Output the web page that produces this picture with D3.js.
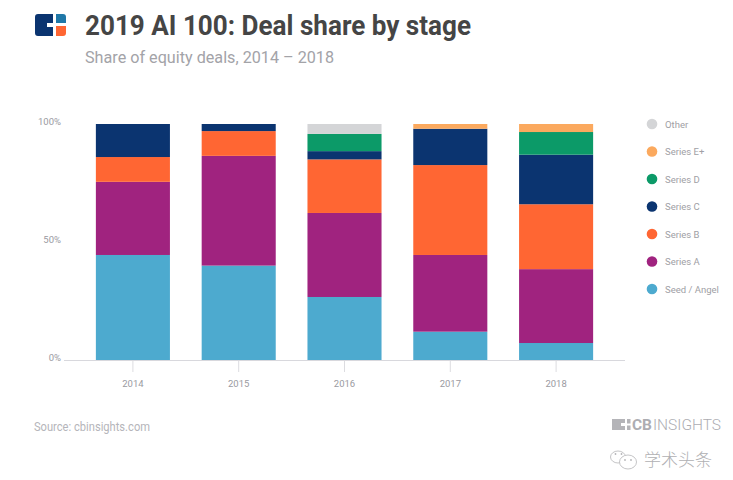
<!DOCTYPE html>
<html><head><meta charset="utf-8">
<script src="https://cdn.jsdelivr.net/npm/d3@7"></script>
<style>html,body{margin:0;padding:0;background:#fff}svg{display:block}text{font-family:Roboto,sans-serif}</style>
</head><body><svg id="c" width="733" height="480"></svg>
<script>
const years = ["2014","2015","2016","2017","2018"];
const stages = ["Seed / Angel","Series A","Series B","Series C","Series D","Series E+","Other"];
const stageColors = ["#4daacf","#a0237f","#ff6633","#0b3470","#0c9a68","#fba95e","#d4d5d7"];
const seedAngel = [44.5,40,26.7,12,7.2];
const seriesA = [31,46.5,35.6,32.5,31.3];
const seriesB = [10.5,10.5,22.7,38.1,27.5];
const seriesC = [14,3,3.5,15.4,21];
const seriesD = [0,0,7.3,0,9.6];
const seriesE = [0,0,0,2,3.4];
const other = [0,0,4.2,0,0];
const yTicks = [0,50,100];

const rows = years.map((y,i)=>({year:y,"Seed / Angel":seedAngel[i],"Series A":seriesA[i],"Series B":seriesB[i],"Series C":seriesC[i],"Series D":seriesD[i],"Series E+":seriesE[i],"Other":other[i]}));
const svg = d3.select("#c");
const x = d3.scaleBand().domain(years).range([80,609]).paddingInner(0.3).paddingOuter(0.15);
const y = d3.scaleLinear().domain([0,100]).range([360,124]);
const color = d3.scaleOrdinal(stages,stageColors);
const stack = d3.stack().keys(stages)(rows);

// header logo
const logo = svg.append("g");
logo.append("path").attr("d","M38 14H53V23H47V27H53V36H38Q35 36 35 33V17Q35 14 38 14Z").attr("fill","#0b3470");
logo.append("path").attr("d","M56 14H63Q66 14 66 17V23H56Z").attr("fill","#1f78a8");
logo.append("path").attr("d","M56 26H66V33Q66 36 63 36H56Z").attr("fill","#ff6633");

svg.append("text").attr("x",85).attr("y",35).attr("font-size",28).attr("font-weight",700).attr("fill","#454545")
  .attr("textLength",386).attr("lengthAdjust","spacingAndGlyphs").text("2019 AI 100: Deal share by stage");
svg.append("text").attr("x",85).attr("y",63).attr("font-size",17).attr("fill","#a3a3a8")
  .attr("textLength",249).attr("lengthAdjust","spacingAndGlyphs").text("Share of equity deals, 2014 – 2018");

// bars
svg.append("g").selectAll("g").data(stack).join("g").attr("fill",d=>color(d.key))
  .selectAll("rect").data(d=>d.filter(s=>s[1]>s[0])).join("rect")
  .attr("x",d=>x(d.data.year)).attr("width",x.bandwidth())
  .attr("y",d=>y(d[1])).attr("height",d=>y(d[0])-y(d[1]));

// x axis
const xAxis = d3.axisBottom(x).tickSize(12).tickPadding(8);
const gx = svg.append("g").attr("transform","translate(0,360)").call(xAxis);
gx.select(".domain").remove();
gx.selectAll("line").attr("stroke","#dcdce0");
gx.selectAll("text").attr("font-size",9.5).attr("fill","#9a9a9f").style("font-family","Roboto,sans-serif");
svg.append("line").attr("x1",64).attr("x2",625).attr("y1",360.5).attr("y2",360.5).attr("stroke","#d8d8dd");

// y labels
const gy = svg.append("g").attr("transform","translate(61,0)")
  .call(d3.axisLeft(y).tickValues(yTicks).tickSize(0).tickPadding(0).tickFormat(d=>d+"%"));
gy.select(".domain").remove();
gy.selectAll("text").attr("font-size",9.5).attr("fill","#9a9a9f").attr("dy","0.32em").style("font-family","Roboto,sans-serif")
  .attr("transform","translate(0,-2.5)");

// legend
const legendY = d3.scalePoint().domain(stages.slice().reverse()).range([124,289]);
const lg = svg.append("g").selectAll("g").data(stages).join("g").attr("transform",d=>`translate(652,${legendY(d)})`);
lg.append("circle").attr("r",5.3).attr("fill",d=>color(d));
lg.append("text").attr("x",13).attr("y",3.5).attr("font-size",9.5).attr("fill","#a0a0a5").text(d=>d);

// footer
svg.append("text").attr("x",34).attr("y",431).attr("font-size",12).attr("fill","#b5b5ba")
  .attr("textLength",116).attr("lengthAdjust","spacingAndGlyphs").text("Source: cbinsights.com");

// CB Insights mark
const m = svg.append("g").attr("fill","#b4b4b8");
m.append("path").attr("d","M612 419H625V423H621V426H625V430H612Z");
m.append("rect").attr("x",627).attr("y",419).attr("width",3.5).attr("height",4.5);
m.append("rect").attr("x",627).attr("y",425.5).attr("width",3.5).attr("height",4.5);
svg.append("text").attr("x",632).attr("y",430).attr("font-size",15).attr("font-weight",700).attr("fill","#adadb2")
  .attr("textLength",20).attr("lengthAdjust","spacingAndGlyphs").text("CB");
svg.append("text").attr("x",653).attr("y",430).attr("font-size",15).attr("font-weight",300).attr("fill","#adadb2")
  .attr("textLength",68).attr("lengthAdjust","spacingAndGlyphs").text("INSIGHTS");

// WeChat-style watermark
const w = svg.append("g").attr("fill","#fff").attr("stroke","#bdbdc0").attr("stroke-width",0.9);
w.append("ellipse").attr("cx",618).attr("cy",457).attr("rx",7.5).attr("ry",6);
w.append("ellipse").attr("cx",628).attr("cy",462).attr("rx",8.5).attr("ry",7);
const eyes = svg.append("g").attr("fill","#b5b5b8");
eyes.append("circle").attr("cx",615.5).attr("cy",454).attr("r",0.9);
eyes.append("circle").attr("cx",621.5).attr("cy",454).attr("r",0.9);
eyes.append("circle").attr("cx",625).attr("cy",460).attr("r",0.9);
eyes.append("circle").attr("cx",631).attr("cy",460).attr("r",0.9);
svg.append("text").attr("x",644).attr("y",466).attr("font-size",17).attr("fill","#b0b0b3")
  .style("font-family","'Noto Sans CJK SC'").attr("font-weight",300).text("学术头条");
</script></body></html>
